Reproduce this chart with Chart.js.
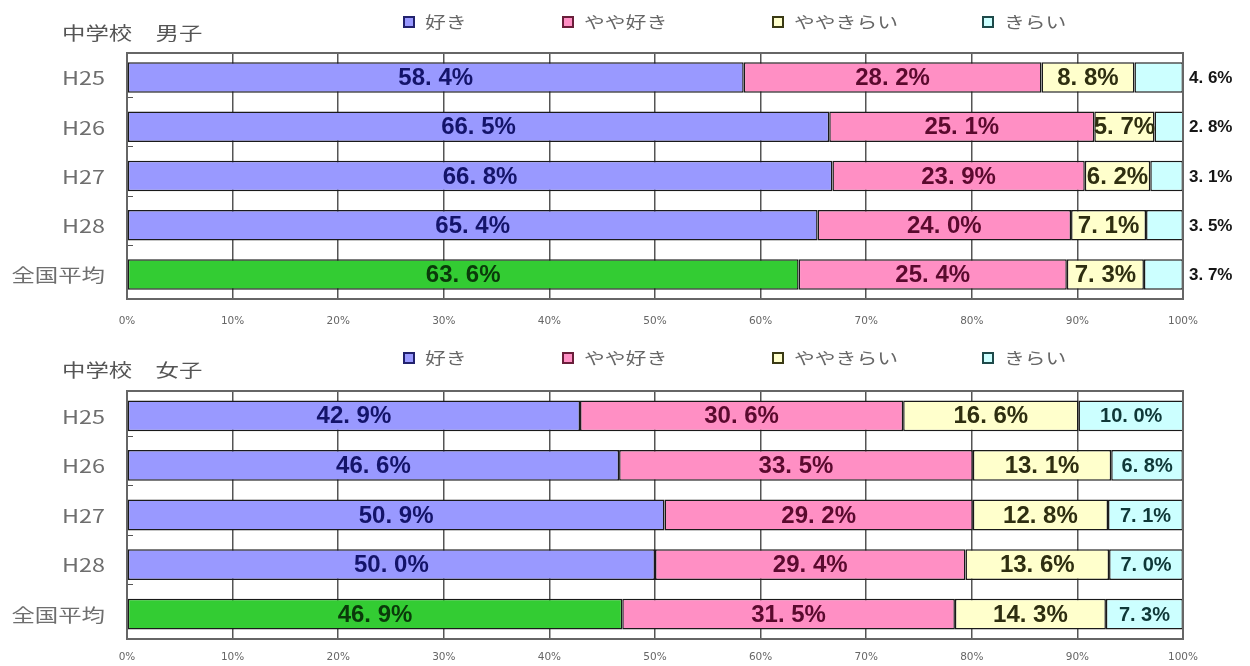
<!DOCTYPE html>
<html lang="ja">
<head>
<meta charset="utf-8">
<title>中学校 男子・女子</title>
<script src="https://cdn.jsdelivr.net/npm/chart.js@4/dist/chart.umd.min.js"></script>
<style>
  html, body { margin: 0; padding: 0; background: #fff; }
  #wrap { position: relative; width: 1250px; height: 666px; }
  canvas { position: absolute; left: 0; }
  #boys { top: 0; }
  #girls { top: 333px; }
</style>
</head>
<body>
<div id="wrap">
  <canvas id="boys" width="1250" height="333"></canvas>
  <canvas id="girls" width="1250" height="333"></canvas>
</div>
<script>
// Categories (survey years and national average)
const categories = ['H25', 'H26', 'H27', 'H28', '全国平均'];
// Answer options
const seriesNames = ['好き', 'やや好き', 'ややきらい', 'きらい'];
// Axis ticks (percent)
const tickLabels = ['0%', '10%', '20%', '30%', '40%', '50%', '60%', '70%', '80%', '90%', '100%'];

// 中学校 男子
const boysLike            = [58.4, 66.5, 66.8, 65.4, 63.6];
const boysSomewhatLike    = [28.2, 25.1, 23.9, 24.0, 25.4];
const boysSomewhatDislike = [8.8, 5.7, 6.2, 7.1, 7.3];
const boysDislike         = [4.6, 2.8, 3.1, 3.5, 3.7];

// 中学校 女子
const girlsLike            = [42.9, 46.6, 50.9, 50.0, 46.9];
const girlsSomewhatLike    = [30.6, 33.5, 29.2, 29.4, 31.5];
const girlsSomewhatDislike = [16.6, 13.1, 12.8, 13.6, 14.3];
const girlsDislike         = [10.0, 6.8, 7.1, 7.0, 7.3];

const JP = '"Noto Sans CJK JP", "Noto Sans", sans-serif';
const NUM = '"Liberation Sans", Arial, sans-serif';
const fills  = ['#9999FF', '#FF8FC4', '#FFFFCC', '#CCFFFF'];
const inks   = ['#14146A', '#5A0A2E', '#2E2E10', '#0F3838'];
const boxEdges = ['#22226E', '#6A1E3A', '#3A3A14', '#1E4A4A'];
const avgFill = '#33CC33';
const avgInk  = '#0A3A0A';

function fmt(v) {
  return v.toFixed(1).replace('.', '. ') + '%';
}

// Text drawn with a horizontal stretch (wide gothic look)
function wideText(ctx, text, x, y, align, sx) {
  ctx.save();
  ctx.translate(x, y);
  ctx.scale(sx, 1);
  ctx.textAlign = align;
  ctx.textBaseline = 'middle';
  ctx.fillText(text, 0, 0);
  ctx.restore();
}

function buildDatasets(rows) {
  return rows.map((values, i) => ({
    label: seriesNames[i],
    data: values,
    backgroundColor: i === 0 ? values.map((_, j) => j === values.length - 1 ? avgFill : fills[0]) : fills[i],
    borderColor: '#1a1a1a',
    borderWidth: 1.5,
    borderSkipped: false,
    barPercentage: 0.62,
    categoryPercentage: 1.0
  }));
}

// Title, legend, frame, category labels and value labels
const decor = {
  id: 'decor',
  beforeDatasetsDraw(chart) {
    const { ctx, chartArea: a } = chart;
    ctx.save();
    ctx.strokeStyle = '#555';
    ctx.lineWidth = 1;
    const band = (a.bottom - a.top) / categories.length;
    for (let i = 1; i < categories.length; i++) {
      const yy = Math.round(a.top + band * i) - 4.5;
      ctx.beginPath();
      ctx.moveTo(a.left, yy);
      ctx.lineTo(a.left + 6, yy);
      ctx.stroke();
    }
    ctx.restore();
  },
  afterDatasetsDraw(chart, args, opts) {
    const { ctx, chartArea: a } = chart;
    const yScale = chart.scales.y;
    ctx.save();
    // plot frame
    ctx.strokeStyle = '#666';
    ctx.lineWidth = 2;
    ctx.strokeRect(a.left, a.top, a.right - a.left, a.bottom - a.top);

    // category labels
    ctx.fillStyle = '#6e6e6e';
    ctx.font = '18px ' + JP;
    categories.forEach((c, i) => {
      wideText(ctx, c, 105, yScale.getPixelForValue(i) + 1, 'right', 1.3);
    });

    // value labels
    ctx.textBaseline = 'middle';
    const last = chart.data.datasets.length - 1;
    chart.data.datasets.forEach((ds, di) => {
      const meta = chart.getDatasetMeta(di);
      meta.data.forEach((bar, j) => {
        const txt = fmt(ds.data[j]);
        if (di === last && opts.outsideLast) {
          ctx.font = 'bold 17px ' + NUM;
          ctx.fillStyle = '#151515';
          ctx.textAlign = 'left';
          ctx.fillText(txt, a.right + 6, bar.y + 1);
        } else {
          ctx.font = (di === last ? 'bold 20px ' : 'bold 24px ') + NUM;
          ctx.fillStyle = (di === 0 && j === categories.length - 1) ? avgInk : inks[di];
          ctx.textAlign = 'center';
          ctx.fillText(txt, (bar.x + bar.base) / 2, bar.y + 1);
        }
      });
    });

    // title
    ctx.font = '18px ' + JP;
    ctx.fillStyle = '#555';
    wideText(ctx, opts.title, 62, opts.titleY, 'left', 1.3);

    // legend
    const xs = [404, 563, 773, 983];
    ctx.font = '16px ' + JP;
    seriesNames.forEach((name, i) => {
      const x = xs[i];
      const yy = opts.legendY;
      ctx.fillStyle = fills[i];
      ctx.fillRect(x, yy - 5, 10, 10);
      ctx.strokeStyle = boxEdges[i];
      ctx.lineWidth = 2;
      ctx.strokeRect(x, yy - 5, 10, 10);
      ctx.fillStyle = '#666';
      wideText(ctx, name, x + 21, yy, 'left', 1.3);
    });
    ctx.restore();
  }
};

function makeChart(id, rows, cfg) {
  return new Chart(document.getElementById(id), {
    type: 'bar',
    data: { labels: categories, datasets: buildDatasets(rows) },
    options: {
      indexAxis: 'y',
      responsive: false,
      animation: false,
      devicePixelRatio: 1,
      layout: { padding: { top: cfg.top, right: 67, bottom: cfg.bottom, left: 0 } },
      plugins: {
        legend: { display: false },
        tooltip: { enabled: false },
        decor: cfg.decor
      },
      scales: {
        x: {
          stacked: true,
          min: 0,
          max: 100,
          ticks: {
            stepSize: 10,
            padding: cfg.tickPad,
            color: '#666',
            font: { size: 10.5, family: '"DejaVu Sans", sans-serif' },
            callback: (v) => tickLabels[Math.round(v / 10)]
          },
          grid: { color: '#555', lineWidth: 1.5, drawTicks: false },
          border: { display: false },
          afterFit: (s) => { s.height = cfg.xHeight; }
        },
        y: {
          stacked: true,
          ticks: { display: false },
          grid: { display: false },
          border: { display: false },
          afterFit: (s) => { s.width = 127; }
        }
      }
    },
    plugins: [decor]
  });
}

makeChart('boys', [boysLike, boysSomewhatLike, boysSomewhatDislike, boysDislike], {
  top: 53, bottom: 2, xHeight: 32, tickPad: 16,
  decor: { title: '中学校　男子', titleY: 33, legendY: 22, outsideLast: true }
});

makeChart('girls', [girlsLike, girlsSomewhatLike, girlsSomewhatDislike, girlsDislike], {
  top: 58, bottom: 3, xHeight: 24, tickPad: 12,
  decor: { title: '中学校　女子', titleY: 37, legendY: 25, outsideLast: false }
});
</script>
</body>
</html>
